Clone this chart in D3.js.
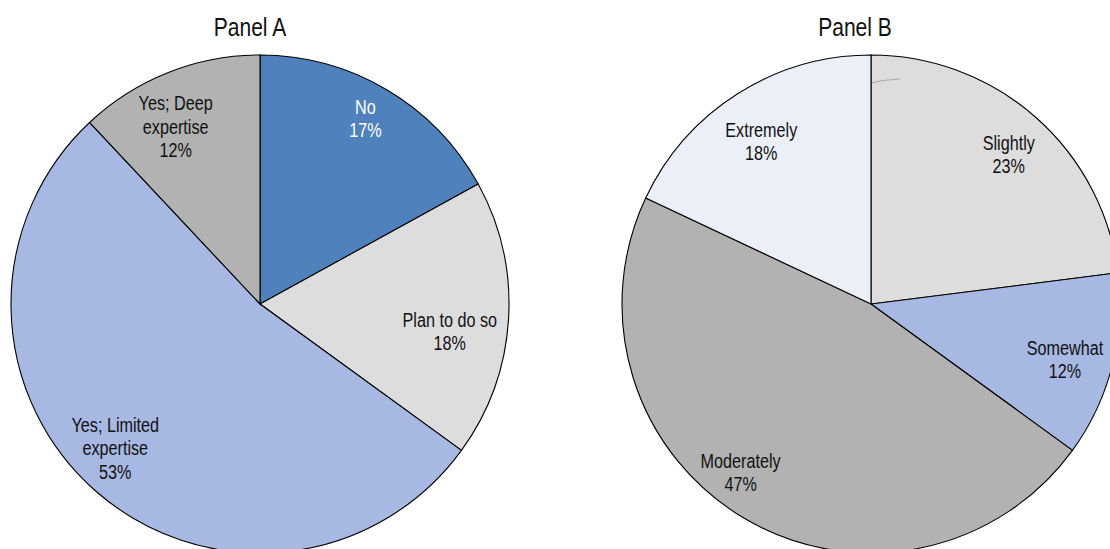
<!DOCTYPE html>
<html>
<head>
<meta charset="utf-8">
<script src="https://cdn.jsdelivr.net/npm/d3@7/dist/d3.min.js"></script>
<style>
  html, body { margin: 0; padding: 0; background: #ffffff; overflow: hidden; }
  svg { display: block; }
  text { font-family: "Liberation Sans", Arial, sans-serif; }
</style>
</head>
<body>
<svg id="chart" width="1110" height="549"></svg>
<script>
// Panel A: does the firm use the technique?
const panelACategories = ["No", "Plan to do so", "Yes; Limited expertise", "Yes; Deep expertise"];
const panelAValues = [17, 18, 53, 12];
const panelALabelLines = [["No"], ["Plan to do so"], ["Yes; Limited", "expertise"], ["Yes; Deep", "expertise"]];

// Panel B: how important is it?
const panelBCategories = ["Slightly", "Somewhat", "Moderately", "Extremely"];
const panelBValues = [23, 12, 47, 18];
const panelBLabelLines = [["Slightly"], ["Somewhat"], ["Moderately"], ["Extremely"]];

const panelTitles = ["Panel A", "Panel B"];

const svg = d3.select("#chart");
const W = 1110, H = 549;
const R = 249;
const X_SCALE = 0.81;   // condensed sans look
const LINE_H = 23.3;

const panels = [
  {
    title: panelTitles[0], cx: 260, cy: 304, titleX: 250,
    cats: panelACategories, vals: panelAValues, lines: panelALabelLines,
    colors: ["#4f81bd", "#dddddd", "#a7b8e3", "#b2b2b2"],
    textColors: ["#ffffff", "#111111", "#111111", "#111111"],
    nudge: [[4, -14], [-9, 15], [-13, -5], [-11, 8]]
  },
  {
    title: panelTitles[1], cx: 871, cy: 304, titleX: 855,
    cats: panelBCategories, vals: panelBValues, lines: panelBLabelLines,
    colors: ["#dddddd", "#a7b8e3", "#b2b2b2", "#ebeff8"],
    textColors: ["#111111", "#111111", "#111111", "#111111"],
    nudge: [[6, 0], [1, 6], [-29, -3], [-3, 6]]
  }
];

const pie = d3.pie().sort(null).value(d => d.value);
const arc = d3.arc().innerRadius(0).outerRadius(R);
const labelArc = d3.arc().innerRadius(R * 0.8).outerRadius(R * 0.8);

function condensedText(sel, x, y, str, size, fill) {
  sel.append("text")
    .attr("transform", `translate(${x},${y}) scale(${X_SCALE},1)`)
    .attr("text-anchor", "middle")
    .attr("font-size", size)
    .attr("fill", fill)
    .text(str);
}

panels.forEach(p => {
  const data = p.cats.map((c, i) => ({ cat: c, value: p.vals[i], i }));
  const arcs = pie(data);

  const g = svg.append("g").attr("transform", `translate(${p.cx},${p.cy})`);

  g.selectAll("path.slice")
    .data(arcs)
    .enter().append("path")
    .attr("class", "slice")
    .attr("d", arc)
    .attr("fill", d => p.colors[d.data.i])
    .attr("stroke", "#000000")
    .attr("stroke-width", 1.1)
    .attr("stroke-linejoin", "miter");

  // slice labels: category lines plus the value as a percentage
  arcs.forEach(d => {
    const [lx, ly] = labelArc.centroid(d);
    const nd = p.nudge[d.data.i];
    const cx = lx + nd[0], cy = ly + nd[1];
    const lines = p.lines[d.data.i].concat([d.data.value + "%"]);
    const n = lines.length;
    const firstBaseline = cy - (n - 1) * LINE_H / 2 + 7;
    lines.forEach((ln, k) => {
      condensedText(g, cx, firstBaseline + k * LINE_H, ln, 20, p.textColors[d.data.i]);
    });
  });

  condensedText(svg, p.titleX, 36, p.title, 26, "#111111");
});

// small stray pen stroke near the top of Panel B
svg.append("path")
  .attr("d", d3.line()([[872, 83], [880, 81], [888, 80], [900, 79]]))
  .attr("fill", "none")
  .attr("stroke", "#a8a8a8")
  .attr("stroke-width", 1.2);
</script>
</body>
</html>
